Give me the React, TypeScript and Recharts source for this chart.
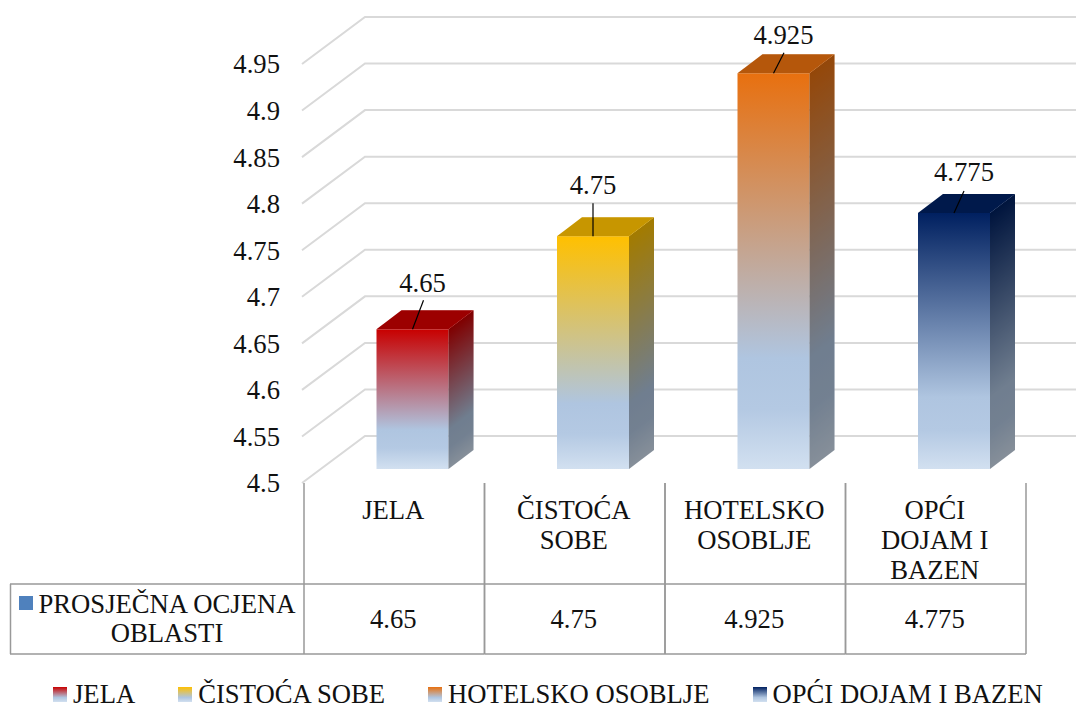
import { BarChart, Bar, XAxis, YAxis, CartesianGrid, Legend, LabelList } from "recharts";

const categories = ["JELA", "ČISTOĆA SOBE", "HOTELSKO OSOBLJE", "OPĆI DOJAM I BAZEN"];
const categoryLines = [["JELA"], ["ČISTOĆA", "SOBE"], ["HOTELSKO", "OSOBLJE"], ["OPĆI", "DOJAM I", "BAZEN"]];
const scores = [4.65, 4.75, 4.925, 4.775];
const yTicks = [4.5, 4.55, 4.6, 4.65, 4.7, 4.75, 4.8, 4.85, 4.9, 4.95];
const seriesName = ["PROSJEČNA OCJENA", "OBLASTI"];

const barColors = ["#c80000", "#ffc000", "#e8700f", "#002060"];
// where the value labels sit relative to the top of the front face
const labelOffset = [[10, -46], [0, -51], [10, -38], [10, -41]];
const leaderEnd = [[11, -29], [0, -33], [10.5, -20.5], [10, -22]];

const data = categories.map((name, i) => ({ name, value: scores[i] }));

const FONT = "'Liberation Serif', serif";
const FS = 26.67;
const TXT = "#111";
const TABLE = "#999";
const BAND = 180.5;
// 3d offsets
const SHIFT_X = 18.5;
const SHIFT_Y = 14;
const DEPTH_X = 25;
const DEPTH_Y = 19;

const GridLine = (p: any) => (
  <path d={`M${p.x1 - 2} ${p.y1}L${p.x1 + 61} ${p.y1 - 47}H1076`} fill="none" stroke="#d9d9d9" strokeWidth={2} />
);

function Bar3D(p: any) {
  const i = p.index;
  const x = p.x + SHIFT_X;
  const y = p.y - SHIFT_Y;
  const w = p.width;
  const h = p.height;
  const color = barColors[i];
  const k = DEPTH_Y / DEPTH_X;
  const gb = h / (1 + k * k);
  const stops = (
    <>
      <stop offset="0" stopColor={color} />
      <stop offset="0.72" stopColor="#afc5e0" />
      <stop offset="0.85" stopColor="#b4c9e3" />
      <stop offset="1" stopColor="#d2e0f0" />
    </>
  );
  return (
    <g>
      <defs>
        <linearGradient id={`front${i}`} x1="0" y1="0" x2="0" y2="1">{stops}</linearGradient>
        <linearGradient id={`side${i}`} gradientUnits="userSpaceOnUse" x1={x + w} y1={y} x2={x + w + k * gb} y2={y + gb}>{stops}</linearGradient>
      </defs>
      <rect x={x} y={y} width={w} height={h} fill={`url(#front${i})`} />
      <path d={`M${x + w} ${y}l${DEPTH_X} ${-DEPTH_Y}v${h}l${-DEPTH_X} ${DEPTH_Y}z`} fill={`url(#side${i})`} />
      <path d={`M${x + w} ${y}l${DEPTH_X} ${-DEPTH_Y}v${h}l${-DEPTH_X} ${DEPTH_Y}z`} fill="#000" fillOpacity={0.36} />
      <path d={`M${x} ${y}l${DEPTH_X} ${-DEPTH_Y}h${w}l${-DEPTH_X} ${DEPTH_Y}z`} fill={color} />
      <path d={`M${x} ${y}l${DEPTH_X} ${-DEPTH_Y}h${w}l${-DEPTH_X} ${DEPTH_Y}z`} fill="#000" fillOpacity={0.22} />
    </g>
  );
}

function BarLabel(p: any) {
  const i = p.index;
  const cx = p.x + SHIFT_X + p.width / 2;
  const top = p.y - SHIFT_Y;
  return (
    <g>
      <line x1={cx} y1={top} x2={cx + leaderEnd[i][0]} y2={top + leaderEnd[i][1]} stroke="#000" strokeWidth={1.2} />
      <text x={cx + labelOffset[i][0]} y={top + labelOffset[i][1]} textAnchor="middle" dominantBaseline="central" fontFamily={FONT} fontSize={FS} fill={TXT}>
        {p.value}
      </text>
    </g>
  );
}

// the data table under the plot is drawn by the category ticks
function TableTick(p: any) {
  const i = p.index;
  const left = p.x - BAND / 2;
  const right = p.x + BAND / 2;
  const txt = { fontFamily: FONT, fontSize: FS, fill: TXT, textAnchor: "middle" as const, dominantBaseline: "central" as const };
  return (
    <g>
      <line x1={left} y1={483} x2={left} y2={654} stroke={TABLE} strokeWidth={1.5} />
      <line x1={right} y1={483} x2={right} y2={654} stroke={TABLE} strokeWidth={1.5} />
      <line x1={i === 0 ? 10 : left} y1={584} x2={right} y2={584} stroke={TABLE} strokeWidth={1.5} />
      <line x1={i === 0 ? 10 : left} y1={654} x2={right} y2={654} stroke={TABLE} strokeWidth={1.5} />
      {categoryLines[i].map((l, n) => (
        <text key={n} x={p.x - 1} y={510 + n * 30} {...txt}>{l}</text>
      ))}
      <text x={p.x - 1} y={619} {...txt}>{scores[i]}</text>
      {i === 0 && (
        <g>
          <line x1={10.5} y1={584} x2={10.5} y2={654} stroke={TABLE} strokeWidth={1.5} />
          <rect x={19} y={596} width={14} height={14} fill="#4f81bd" />
          <text x={167} y={604} {...txt}>{seriesName[0]}</text>
          <text x={167} y={633} {...txt}>{seriesName[1]}</text>
        </g>
      )}
    </g>
  );
}

function LegendRow() {
  return (
    <div style={{ display: "flex", gap: 43, paddingLeft: 53, height: 40, alignItems: "center", marginTop: 7, fontFamily: FONT, fontSize: FS, color: TXT, whiteSpace: "nowrap" }}>
      {categories.map((c, i) => (
        <div key={c} style={{ display: "flex", alignItems: "center", gap: 6 }}>
          <span style={{ width: 14, height: 15, background: `linear-gradient(${barColors[i]}, #afc5e0 70%, #d2e0f0)` }} />
          <span>{c}</span>
        </div>
      ))}
    </div>
  );
}

export default function App() {
  return (
    <div style={{ position: "absolute", left: 0, top: 0, width: 1076, height: 707 }}>
      <BarChart width={1076} height={707} data={data} barSize={72} margin={{ top: 64, right: 50, bottom: 0, left: 0 }}>
        <CartesianGrid vertical={false} horizontal={GridLine} />
        <XAxis dataKey="name" height={184} interval={0} axisLine={false} tickLine={false} tick={<TableTick />} />
        <YAxis
          width={304}
          domain={[4.5, 4.95]}
          ticks={yTicks}
          interval={0}
          axisLine={false}
          tickLine={false}
          tickSize={0}
          tickMargin={24}
          tick={{ fontSize: FS, fontFamily: FONT, fill: TXT }}
        />
        <Legend height={40} content={<LegendRow />} />
        <Bar dataKey="value" shape={<Bar3D />} isAnimationActive={false}>
          <LabelList dataKey="value" content={<BarLabel />} />
        </Bar>
      </BarChart>
    </div>
  );
}
